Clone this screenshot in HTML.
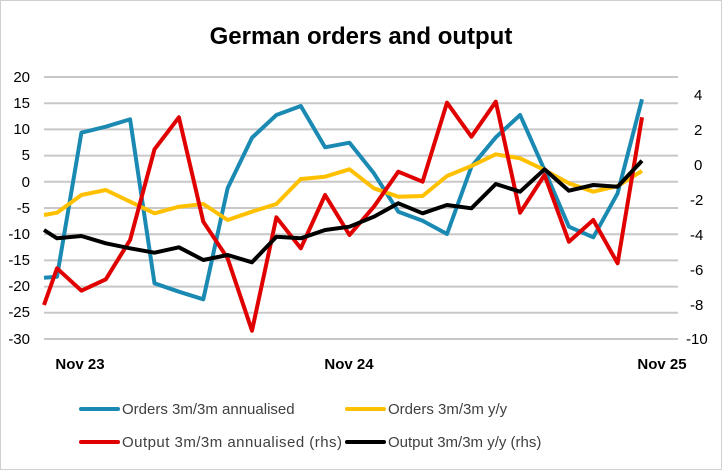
<!DOCTYPE html>
<html><head><meta charset="utf-8"><style>
body{margin:0;background:#fff}
svg{display:block;font-family:"Liberation Sans",sans-serif}
</style></head><body>
<svg width="722" height="470" viewBox="0 0 722 470">
<rect x="0.5" y="0.5" width="721" height="469" fill="#fff" stroke="#d0d0d0"/>
<text x="361" y="44" text-anchor="middle" font-size="24" font-weight="bold" fill="#000">German orders and output</text>
<g stroke="#c8c8c8" stroke-width="2">
<line x1="44" x2="678" y1="77" y2="77"/><line x1="44" x2="678" y1="103.2" y2="103.2"/><line x1="44" x2="678" y1="129.4" y2="129.4"/><line x1="44" x2="678" y1="155.6" y2="155.6"/><line x1="44" x2="678" y1="181.8" y2="181.8"/><line x1="44" x2="678" y1="208" y2="208"/><line x1="44" x2="678" y1="234.2" y2="234.2"/><line x1="44" x2="678" y1="260.4" y2="260.4"/><line x1="44" x2="678" y1="286.6" y2="286.6"/><line x1="44" x2="678" y1="312.8" y2="312.8"/><line x1="44" x2="678" y1="339" y2="339"/>
</g>
<g font-size="15" fill="#000" text-anchor="end">
<text x="30" y="82">20</text><text x="30" y="108">15</text><text x="30" y="134">10</text><text x="30" y="160">5</text><text x="30" y="187">0</text><text x="30" y="213">-5</text><text x="30" y="239">-10</text><text x="30" y="265">-15</text><text x="30" y="291">-20</text><text x="30" y="317">-25</text><text x="30" y="344">-30</text>
</g>
<g font-size="15" fill="#000" text-anchor="start">
<text x="694" y="100">4</text><text x="694" y="135">2</text><text x="694" y="170">0</text><text x="690" y="205">-2</text><text x="690" y="240">-4</text><text x="690" y="275">-6</text><text x="690" y="310">-8</text><text x="686" y="344">-10</text>
</g>
<g font-size="15" font-weight="bold" fill="#000" text-anchor="middle">
<text x="80" y="369">Nov 23</text><text x="349" y="369">Nov 24</text><text x="662" y="369">Nov 25</text>
</g>
<g fill="none" stroke-width="4" stroke-linejoin="round">
<polyline stroke="#1a8ab3" points="44,277.7 57,276.7 81.4,132.7 105.8,126.7 130.1,119.3 154.5,283.3 178.9,291.7 203.3,299.3 227.6,188.3 252,137.7 276.4,115 300.8,106 325.1,147.3 349.5,142.7 373.9,173.3 398.3,211.7 422.6,220.7 447,234 471.4,166.7 495.8,137.3 520.1,115 544.5,170 568.9,226.7 593.3,237.3 617.6,193.3 642,99.3"/>
<polyline stroke="#ffc000" points="44,215 57,212.7 81.4,195 105.8,190 130.1,201.7 154.5,213.3 178.9,206.7 203.3,204 227.6,220 252,211.7 276.4,204 300.8,179 325.1,176.7 349.5,169.3 373.9,188.3 398.3,196.7 422.6,196 447,176 471.4,166 495.8,154.3 520.1,158.3 544.5,170 568.9,183.3 593.3,191.7 617.6,186 642,171"/>
<polyline stroke="#e00000" points="44,305 57,268.3 81.4,290.7 105.8,279.3 130.1,240 154.5,149.3 178.9,117.3 203.3,221.7 227.6,258.3 252,330.7 276.4,217.3 300.8,248.3 325.1,195 349.5,235 373.9,206.7 398.3,171.7 422.6,181.7 447,102.7 471.4,136.7 495.8,101.7 520.1,212.7 544.5,175 568.9,241.7 593.3,220 617.6,263.3 642,117.3"/>
<polyline stroke="#000" points="44,230 57,238.3 81.4,236 105.8,243.3 130.1,248.3 154.5,252.7 178.9,247.3 203.3,260 227.6,255 252,262.3 276.4,236.7 300.8,238.3 325.1,230 349.5,226.7 373.9,216.7 398.3,203.3 422.6,213.3 447,205 471.4,208.3 495.8,184 520.1,191.7 544.5,169.3 568.9,190.7 593.3,185 617.6,186.7 642,160.7"/>
</g>
<g stroke-width="4" stroke-linecap="round">
<line x1="81" x2="118" y1="409" y2="409" stroke="#1a8ab3"/>
<line x1="347" x2="384" y1="409" y2="409" stroke="#ffc000"/>
<line x1="81" x2="118" y1="442" y2="442" stroke="#e00000"/>
<line x1="347" x2="384" y1="442" y2="442" stroke="#000"/>
</g>
<g font-size="15" fill="#404040">
<text x="122" y="414">Orders 3m/3m annualised</text>
<text x="388" y="414">Orders 3m/3m y/y</text>
<text x="122" y="447" textLength="220">Output 3m/3m annualised (rhs)</text>
<text x="388" y="447">Output 3m/3m y/y (rhs)</text>
</g>
</svg>
</body></html>
